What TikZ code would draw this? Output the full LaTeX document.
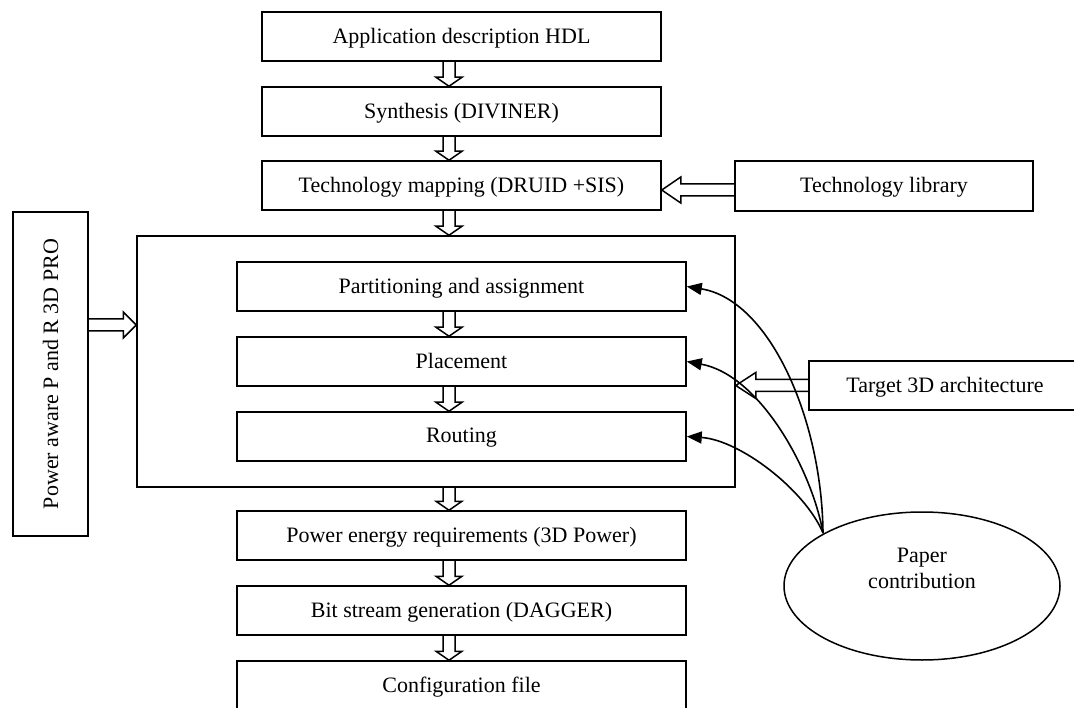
\documentclass[tikz,border=0pt]{standalone}
\usepackage{fontspec}
\setmainfont{Liberation Serif}
\usetikzlibrary{arrows.meta,shapes.geometric,calc}

% vertical hollow arrow: #1 upper node, #2 lower node, #3 head length (x from coordinate axis)
\newcommand\HarrowD[3]{%
  \draw[hollowarr] let \p1=(#1.south), \p2=(#2.north), \p3=(axis) in
    (\x3-6pt,\y1) -- (\x3-6pt,\y2+#3pt) -- (\x3-13pt,\y2+#3pt) -- (\x3,\y2)
    -- (\x3+13pt,\y2+#3pt) -- (\x3+6pt,\y2+#3pt) -- (\x3+6pt,\y1);}
% leftward hollow arrow: #1 start point, #2 tip point (x used), #3 head length
\newcommand\HarrowL[3]{%
  \draw[hollowarr] let \p1=(#1), \p2=(#2) in
    (\x1,\y1+6pt) -- (\x2+#3pt,\y1+6pt) -- (\x2+#3pt,\y1+13pt) -- (\x2,\y1)
    -- (\x2+#3pt,\y1-13pt) -- (\x2+#3pt,\y1-6pt) -- (\x1,\y1-6pt);}
% rightward hollow arrow
\newcommand\HarrowR[3]{%
  \draw[hollowarr] let \p1=(#1), \p2=(#2) in
    (\x1,\y1+6pt) -- (\x2-#3pt,\y1+6pt) -- (\x2-#3pt,\y1+13pt) -- (\x2,\y1)
    -- (\x2-#3pt,\y1-13pt) -- (\x2-#3pt,\y1-6pt) -- (\x1,\y1-6pt);}

\begin{document}
\begin{tikzpicture}[x=1pt,y=-1pt,
  every node/.style={font=\fontsize{22}{26}\selectfont},
  box/.style={draw,line width=1.5pt,rectangle,inner sep=0pt,minimum height=49pt,text depth=2pt},
  hollowarr/.style={line width=1.5pt,line join=miter},
  curv/.style={line width=1.6pt,-{Triangle[length=15pt,width=12pt]}}]
\useasboundingbox (0,0) rectangle (1074,708);
\clip (0,0) rectangle (1074,708);
\coordinate (axis) at (449,0);

\node[box,minimum width=399pt] (app) at (461.5,36.5) {Application description HDL};
\node[box,minimum width=399pt] (syn) at (461.5,111.5) {Synthesis (DIVINER)};
\node[box,minimum width=399pt] (tmap) at (461.5,185.5) {Technology mapping (DRUID +SIS)};
\node[box,minimum width=298pt,minimum height=50pt] (tlib) at (884,186) {Technology library};
\node[box,minimum width=598pt,minimum height=251pt] (big) at (436,361.5) {};
\node[box,minimum width=75pt,minimum height=324pt,text depth=0pt] (power) at (50.5,374)
  {\rotatebox{90}{Power aware P and R 3D PRO}};
\node[box,minimum width=449pt] (part) at (461.5,286.5) {Partitioning and assignment};
\node[box,minimum width=449pt] (place) at (461.5,361.5) {Placement};
\node[box,minimum width=449pt] (route) at (461.5,436.5) {Routing};
\node[box,minimum width=272pt] (target) at (945,385.5) {Target 3D architecture};
\node[box,minimum width=449pt] (pe) at (461.5,535.5) {Power energy requirements (3D Power)};
\node[box,minimum width=449pt] (bit) at (461.5,610.5) {Bit stream generation (DAGGER)};
\node[box,minimum width=449pt] (conf) at (461.5,685.5) {Configuration file};
\node[draw,line width=1.5pt,ellipse,minimum width=276pt,minimum height=148pt] (pc) at (922,586) {};
\node[align=center,inner sep=0pt] (pctext) at (922,568) {Paper\\contribution};

\HarrowD{app}{syn}{9}
\HarrowD{syn}{tmap}{9}
\HarrowD{tmap}{big}{9}
\HarrowD{part}{place}{9}
\HarrowD{place}{route}{9}
\HarrowD{big}{pe}{9}
\HarrowD{pe}{bit}{9}
\HarrowD{bit}{conf}{9}

\HarrowL{$(tlib.west)+(0,4)$}{tmap.east}{19}
\HarrowL{target.west}{big.east}{20}
\HarrowR{$(power.east)+(0,-49)$}{big.west}{13}

\coordinate (cs) at (823,533);
\draw[curv] (cs) .. controls (822,420) and (770,300) .. (part.east);
\draw[curv] (cs) .. controls (812,470) and (760,375) .. (place.east);
\draw[curv] (cs) .. controls (805,490) and (740,440) .. (route.east);
\end{tikzpicture}
\end{document}
